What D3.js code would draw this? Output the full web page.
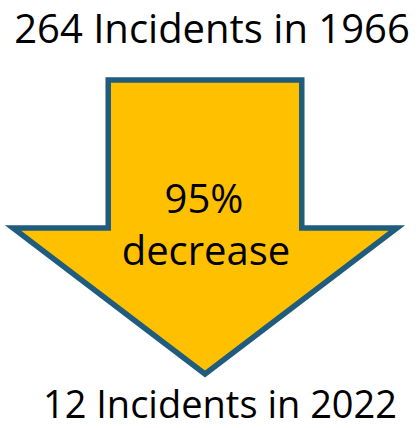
<!DOCTYPE html>
<html>
<head>
<meta charset="utf-8">
<script src="https://cdn.jsdelivr.net/npm/d3@7"></script>
<style>
  html, body { margin: 0; padding: 0; background: #fff; }
  svg { display: block; }
</style>
</head>
<body>
<div id="chart"></div>
<script>
// ---- data ----
const years = [1966, 2022];
const incidents = [264, 12];
const changeLabel = ["95%", "decrease"];

const W = 420, H = 428;
const pct = Math.round((1 - incidents[1] / incidents[0]) * 100);

const svg = d3.select("#chart").append("svg")
  .attr("width", W).attr("height", H);

// layout scales (unit arrow shape -> pixels)
const x = d3.scaleLinear().domain([0, 1]).range([13, 397]);
const y = d3.scaleLinear().domain([0, 1]).range([80, 374]);

// arrow outline in unit coordinates
const shaftL = 0.248, shaftR = 0.752, shoulder = 0.503;
const arrowPts = [
  [shaftL, 0], [shaftR, 0], [shaftR, shoulder], [1, shoulder],
  [0.5, 1], [0, shoulder], [shaftL, shoulder]
];

svg.append("path")
  .attr("d", d3.line().x(d => x(d[0])).y(d => y(d[1])).curve(d3.curveLinearClosed)(arrowPts))
  .attr("fill", "#FFC000")
  .attr("stroke", "#1F5C7D")
  .attr("stroke-width", 5.5)
  .attr("stroke-linejoin", "miter")
  .attr("stroke-miterlimit", 20);

const font = "'Open Sans', 'Noto Sans', sans-serif";

function label(text, cx, by, size) {
  return svg.append("text")
    .attr("x", cx).attr("y", by)
    .attr("text-anchor", "middle")
    .attr("font-family", font)
    .attr("font-size", size)
    .attr("fill", "#000")
    .text(text);
}

label(`${incidents[0]} Incidents in ${years[0]}`, 212, 43, 40);
label(`${pct}%`, 204, 213, 40);
label(changeLabel[1], 206, 265, 40);
label(`${incidents[1]} Incidents in ${years[1]}`, 220, 418, 38);
</script>
</body>
</html>
